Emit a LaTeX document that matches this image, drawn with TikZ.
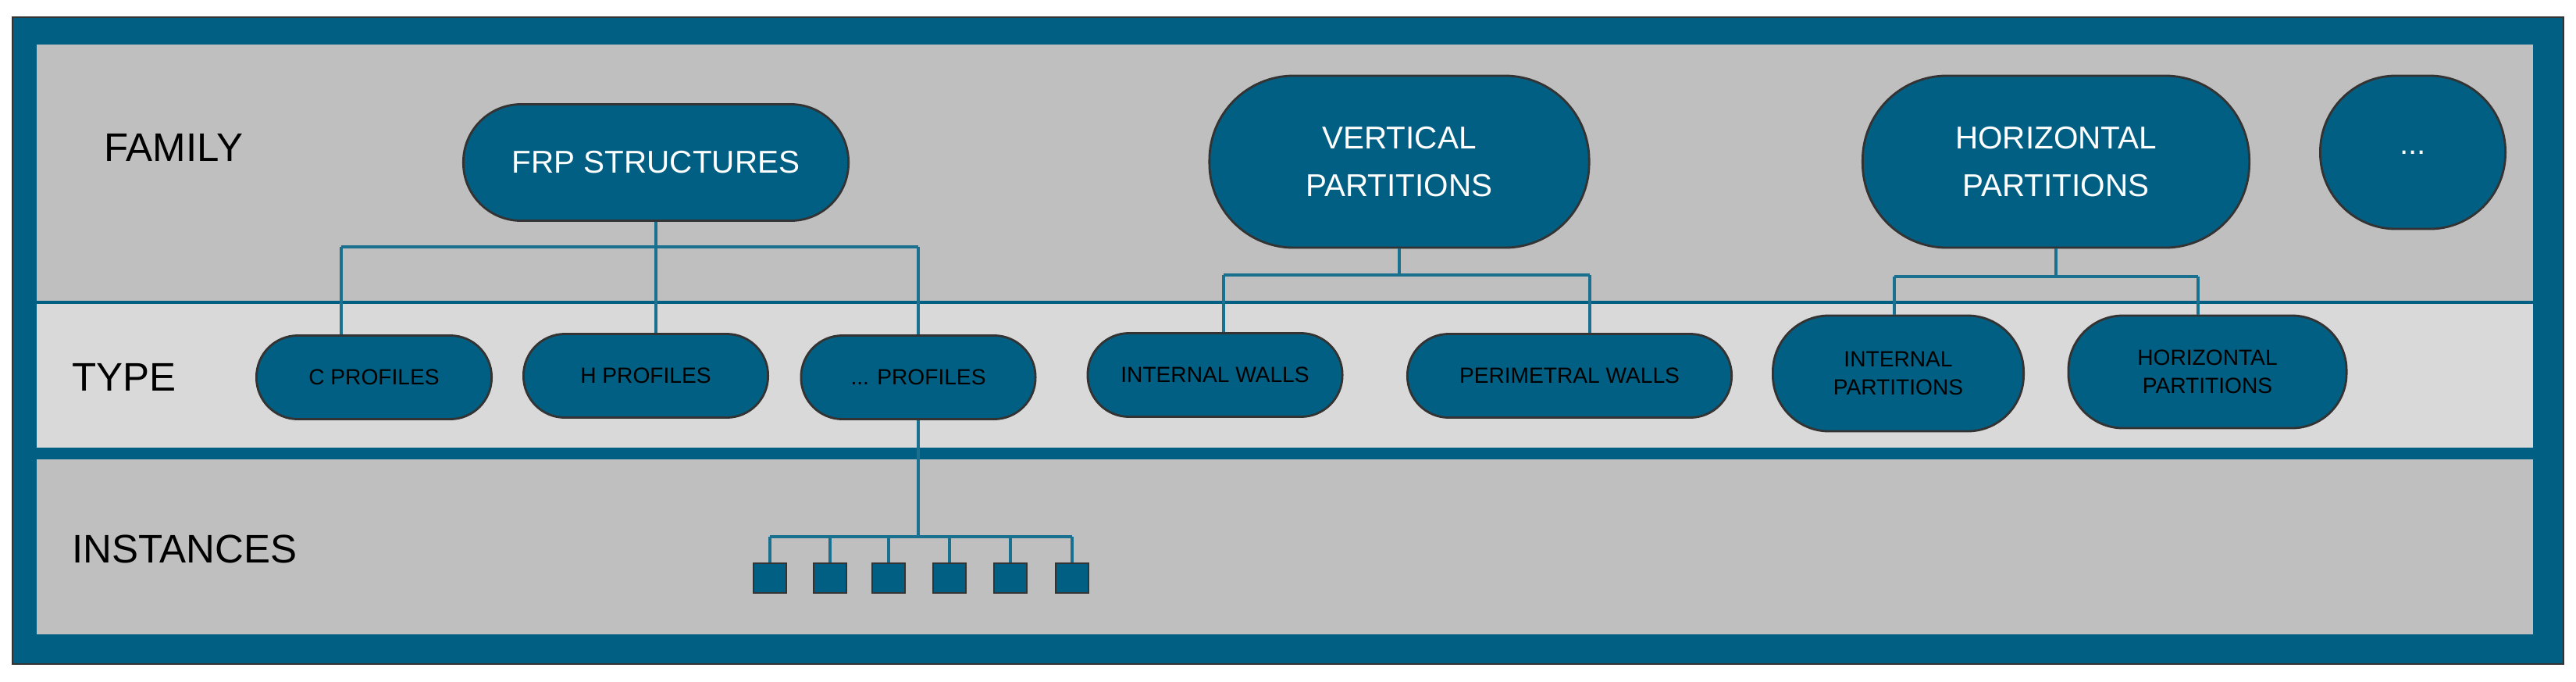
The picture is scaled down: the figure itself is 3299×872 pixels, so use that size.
\documentclass[tikz,border=0pt]{standalone}
\usepackage{fontspec}
\setmainfont{Liberation Sans}
\usetikzlibrary{positioning}
\definecolor{frameblue}{HTML}{005F82}
\definecolor{linkblue}{HTML}{19718F}
\definecolor{panelgray}{HTML}{BFBFBF}
\definecolor{typegray}{HTML}{D9D9D9}
\tikzset{
  fam/.style={draw=black!80,line width=0.8pt,fill=frameblue,text=white,align=center,
              font=\fontsize{11.5}{17.4}\selectfont,inner sep=0pt},
  typ/.style={draw=black!80,line width=0.8pt,fill=frameblue,text=black,align=center,
              font=\fontsize{8}{10.2}\selectfont,inner sep=0pt,minimum height=1.07cm,rounded corners=0.53cm},
  inst/.style={draw=black!80,line width=0.6pt,fill=frameblue,minimum width=0.42cm,minimum height=0.38cm,inner sep=0pt},
  link/.style={draw=linkblue,line width=1.1pt},
  level/.style={font=\fontsize{14.5}{16}\selectfont,anchor=west}
}
\begin{document}
\begin{tikzpicture}[x=0.01cm,y=-0.01cm]
\useasboundingbox (0,0) rectangle (3299,872);
% frame and panels
\draw[fill=frameblue,draw=black!80,line width=0.8pt] (16,22) rectangle (3283,850);
\fill[panelgray] (47,57) rectangle (3244,385);
\fill[typegray] (47,389) rectangle (3244,573);
\fill[panelgray] (47,588) rectangle (3244,812);
%
\node[level] (lfam)  at (121,189) {FAMILY};
\node[level] (ltype) at (80,483)  {TYPE};
\node[level] (linst) at (80,703)  {INSTANCES};
%
\node[fam,minimum width=4.93cm,minimum height=1.49cm,rounded corners=0.74cm] (frp) at (840,208) {FRP STRUCTURES};
\node[fam,minimum width=4.86cm,minimum height=2.2cm,rounded corners=1.08cm] (vert) at (1792,207) {VERTICAL\\PARTITIONS};
\node[fam,minimum width=4.95cm,minimum height=2.2cm,rounded corners=1.08cm] (hori) at (2633,207) {HORIZONTAL\\PARTITIONS};
\node[fam,minimum width=2.37cm,minimum height=1.96cm,rounded corners=0.97cm] (more) at (3090,195) {...};
%
\node[typ,minimum width=3.01cm] (cprof) at (479,483)  {C PROFILES};
\node[typ,minimum width=3.13cm] (hprof) at (827,481)  {H PROFILES};
\node[typ,minimum width=3.00cm] (dprof) at (1176,483) {... PROFILES};
\node[typ,minimum width=3.26cm] (iwall) at (1556,480) {INTERNAL WALLS};
\node[typ,minimum width=4.15cm] (pwall) at (2010,481) {PERIMETRAL WALLS};
\node[typ,minimum width=3.21cm,minimum height=1.48cm,rounded corners=0.72cm] (ipart) at (2431,478) {INTERNAL\\PARTITIONS};
\node[typ,minimum width=3.56cm,minimum height=1.44cm,rounded corners=0.7cm] (hpart) at (2827,476) {HORIZONTAL\\PARTITIONS};
%
\coordinate (fbl) at (437,316);
\coordinate (fbr) at (1176,316);
\draw[link] (frp.south) -- (frp.south |- fbl);
\draw[link] (fbl) -- (fbr);
\draw[link] (fbl) -- (fbl |- cprof.north);
\draw[link] (frp.south |- fbl) -- (frp.south |- hprof.north);
\draw[link] (fbr) -- (dprof.north);
%
\coordinate (vbl) at (1567,352);
\coordinate (vbr) at (2036,352);
\draw[link] (vert.south) -- (vert.south |- vbl);
\draw[link] (vbl) -- (vbr);
\draw[link] (vbl) -- (vbl |- iwall.north);
\draw[link] (vbr) -- (vbr |- pwall.north);
%
\coordinate (hbl) at (2426,354);
\coordinate (hbr) at (2815,354);
\draw[link] (hori.south) -- (hori.south |- hbl);
\draw[link] (hbl) -- (hbr);
\draw[link] (hbl) -- (hbl |- ipart.north);
\draw[link] (hbr) -- (hbr |- hpart.north);
%
\coordinate (ibus) at (1176,687);
\draw[link] (dprof.south) -- (ibus);
\foreach \x [count=\i from 1] in {986,1063,1138,1216,1294,1373}
    \node[inst] (box\i) at (\x,740) {};
\draw[link] (box1.north |- ibus) -- (box6.north |- ibus);
\foreach \i in {1,...,6}
    \draw[link] (box\i.north |- ibus) -- (box\i.north);
\end{tikzpicture}
\end{document}
